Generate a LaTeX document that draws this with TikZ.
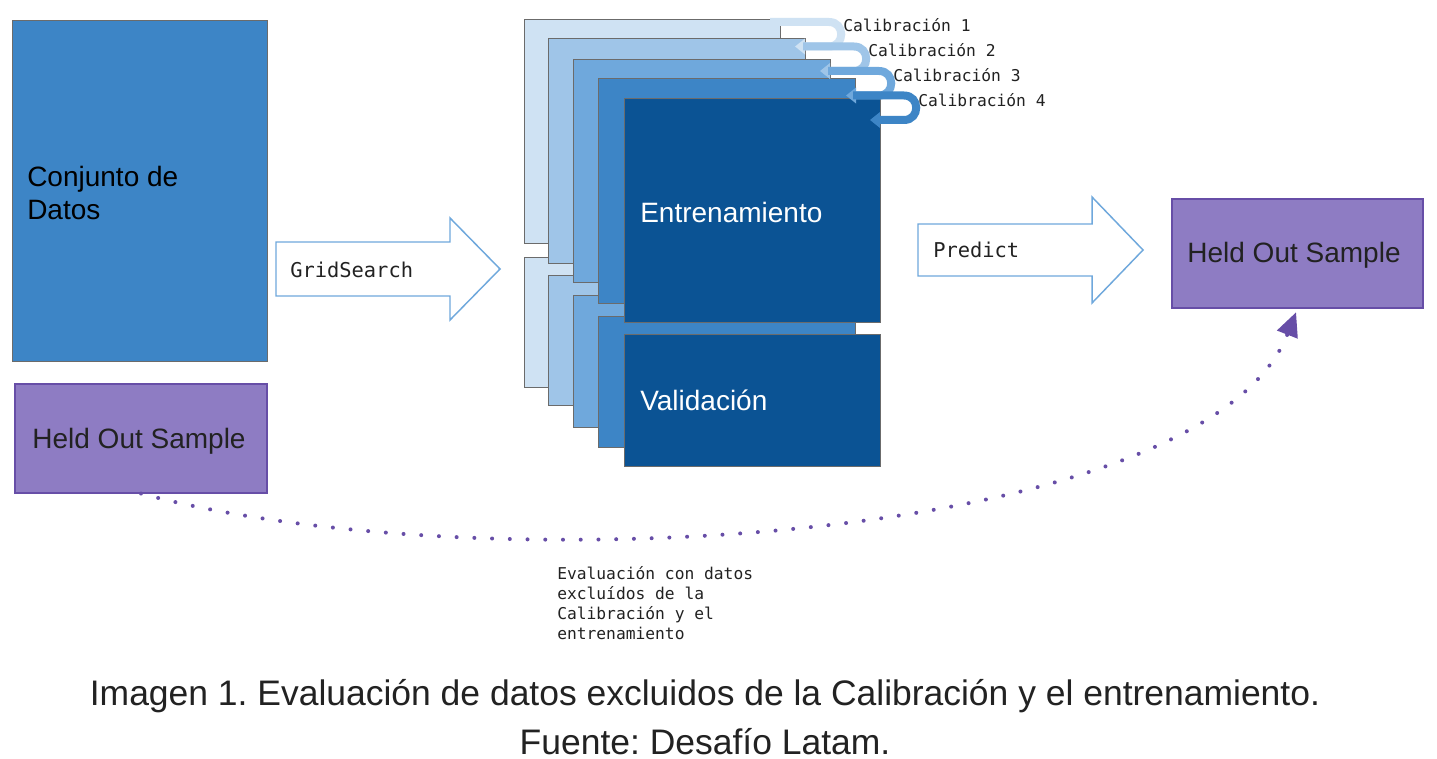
\documentclass[tikz,border=0pt]{standalone}
\usepackage{fontspec}
\setmainfont{Liberation Sans}
\newfontfamily\monofont{DejaVu Sans Mono}
\usetikzlibrary{arrows.meta,fit}
\definecolor{cA}{HTML}{CFE2F3}
\definecolor{cB}{HTML}{9FC5E8}
\definecolor{cC}{HTML}{6FA8DC}
\definecolor{cD}{HTML}{3D85C6}
\definecolor{cE}{HTML}{0B5394}
\definecolor{purp}{HTML}{8E7CC3}
\definecolor{purpdark}{HTML}{674EA7}
\definecolor{edgegray}{HTML}{6B6B6B}
\definecolor{txt}{HTML}{222222}
\frenchspacing
\begin{document}
\begin{tikzpicture}[x=0.75pt,y=-0.75pt,
  card/.style={draw=edgegray, line width=0.6pt, inner sep=0pt},
  big/.style={font=\fontsize{21}{25}\selectfont},
  mono/.style={font=\monofont\fontsize{12.2}{15}\selectfont, text=txt, inner sep=0pt},
  blockarrow/.style={draw=cC, line width=1.1pt, fill=white, line join=miter},
  calib/.style={line width=6pt, -{Triangle[length=7.5pt,width=11.5pt]}},
  heldout/.style={fill=purp, draw=purpdark, line width=0.8pt, inner sep=0pt},
  captxt/.style={font=\fontsize{26.6}{30}\selectfont, text=txt, anchor=base, inner sep=0pt},
]
\useasboundingbox (0,0) rectangle (1437,759);
\fill[white] (0,0) rectangle (1437,759);

% data set
\node[card, fill=cD, fit={(12,20) (267,361)}] (data) {};
\node[big, anchor=west, align=left, inner sep=0pt, text=black] (datatxt) at (27,193) {Conjunto de\\Datos};
\node[heldout, fit={(15,384) (267,493)}] (hol) {};
\node[big, text=txt, inner sep=0pt] (holtxt) at (139,441) {Held Out Sample};

% GridSearch arrow
\draw[blockarrow] (276,242) -- (450,242) -- (450,218) -- (500,269) -- (450,320) -- (450,296) -- (276,296) -- cycle;
\node[font=\monofont\fontsize{15.3}{18}\selectfont, text=txt, anchor=west, inner sep=0pt] (gs) at (290,270) {GridSearch};

% stacked cards
\node[card, fill=cA, fit={(524,19) (780,243)}] (l0t) {};
\node[card, fill=cA, fit={(524,257) (780,387)}] (l0b) {};
\node[card, fill=cB, fit={(548,38) (805,263)}] (l1t) {};
\node[card, fill=cB, fit={(548,275) (805,405)}] (l1b) {};
\node[card, fill=cC, fit={(573,59) (830,282)}] (l2t) {};
\node[card, fill=cC, fit={(573,295) (830,427)}] (l2b) {};
\node[card, fill=cD, fit={(598,78) (855,303)}] (l3t) {};
\node[card, fill=cD, fit={(598,316) (855,447)}] (l3b) {};
\node[card, fill=cE, fit={(624,98) (880,322)}] (l4t) {};
\node[card, fill=cE, fit={(624,334) (880,466)}] (l4b) {};
\node[big, text=white, anchor=west, inner sep=0pt] (train) at (640,212) {Entrenamiento};
\node[big, text=white, anchor=west, inner sep=0pt] (valid) at (640,400) {Validación};

% calibration arrows
\draw[calib, cA] (770,22) -- (829,22) .. controls (845.3,22) and (845.3,46.5) .. (829,46.5) -- (795,46.5);
\draw[calib, cB] (803,46.5) -- (854,46.5) .. controls (870.3,46.5) and (870.3,71) .. (854,71) -- (820,71);
\draw[calib, cC] (828,71) -- (879,71) .. controls (895.3,71) and (895.3,95.5) .. (879,95.5) -- (846,95.5);
\draw[calib, cD] (853,95.5) -- (904,95.5) .. controls (920.3,95.5) and (920.3,120) .. (904,120) -- (870,120);
\node[mono, anchor=west] (c1) at (843,25) {Calibración 1};
\node[mono, anchor=west] (c2) at (868,50) {Calibración 2};
\node[mono, anchor=west] (c3) at (893,75) {Calibración 3};
\node[mono, anchor=west] (c4) at (918,100) {Calibración 4};

% Predict arrow
\draw[blockarrow] (918,224) -- (1092,224) -- (1092,197) -- (1143,250) -- (1092,303) -- (1092,276) -- (918,276) -- cycle;
\node[font=\monofont\fontsize{15.3}{18}\selectfont, text=txt, anchor=west, inner sep=0pt] (pred) at (933,250) {Predict};

\node[heldout, fit={(1172,199) (1423,308)}] (hor) {};
\node[big, text=txt, inner sep=0pt] (hortxt) at (1294,255) {Held Out Sample};

% dotted evaluation curve
\draw[purpdark, line width=3pt, line cap=round, dash pattern=on 0pt off 13.3pt,
      -{Triangle[length=18pt,width=16pt]}, shorten >=3pt]
  (hol.south) .. controls (480,585) and (1205,545) .. (hor.south);
\node[mono, anchor=west, align=left] (ev) at (557,603) {Evaluación con datos\\excluídos de la\\Calibración y el\\entrenamiento};

% caption
\node[captxt] (cap1) at (705,705) {Imagen 1. Evaluación de datos excluidos de la Calibración y el entrenamiento.};
\node[captxt] (cap2) at (705,754) {Fuente: Desafío Latam.};
\end{tikzpicture}
\end{document}
